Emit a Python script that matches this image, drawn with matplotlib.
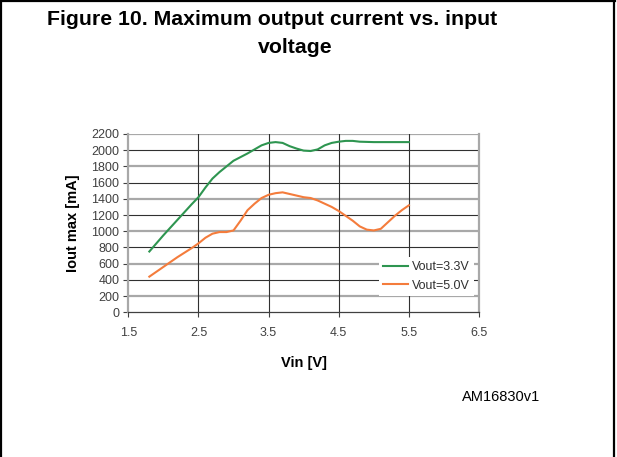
import matplotlib
matplotlib.use("Agg")
import matplotlib.pyplot as plt
from matplotlib.lines import Line2D

vin_33 = [1.8, 2.0, 2.2, 2.4, 2.5, 2.6, 2.7, 2.8, 2.9, 3.0, 3.2, 3.4, 3.5, 3.6, 3.7,
          3.8, 3.9, 4.0, 4.1, 4.2, 4.3, 4.4, 4.5, 4.6, 4.7, 4.8, 5.0, 5.5]
iout_33 = [750, 950, 1140, 1330, 1420, 1540, 1650, 1730, 1800, 1870, 1960, 2060, 2090,
           2100, 2090, 2050, 2020, 1995, 1990, 2010, 2060, 2090, 2105, 2115, 2115, 2105,
           2100, 2100]

vin_50 = [1.8, 2.0, 2.2, 2.4, 2.5, 2.6, 2.7, 2.8, 2.9, 3.0, 3.1, 3.2, 3.3, 3.4, 3.5, 3.6,
          3.7, 3.8, 3.9, 4.0, 4.1, 4.2, 4.3, 4.4, 4.5, 4.6, 4.7, 4.8, 4.9, 5.0, 5.1, 5.2,
          5.3, 5.4, 5.5]
iout_50 = [440, 560, 680, 790, 850, 920, 970, 990, 990, 1010, 1130, 1260, 1340, 1410,
           1450, 1470, 1480, 1460, 1440, 1420, 1410, 1380, 1340, 1300, 1250, 1190, 1130,
           1060, 1020, 1010, 1030, 1110, 1190, 1260, 1320]

series_labels = ["Vout=3.3V", "Vout=5.0V"]
x_ticks = [1.5, 2.5, 3.5, 4.5, 5.5, 6.5]
y_ticks = list(range(0, 2201, 200))

W, H = 617, 457
fig = plt.figure(figsize=(W / 100, H / 100), dpi=100)
plt.rcParams['font.family'] = ['Liberation Sans', 'DejaVu Sans']

# border
fig.add_artist(Line2D([1 / W, 1 / W], [0, 1], transform=fig.transFigure, color='black', lw=1.6))
fig.add_artist(Line2D([614 / W, 614 / W], [0, 1], transform=fig.transFigure, color='black', lw=1.6))
fig.add_artist(Line2D([0, 615 / W], [1 - 1 / H, 1 - 1 / H], transform=fig.transFigure, color='black', lw=1.6))

# title
fig.text(272 / W, 1 - 25 / H, "Figure 10. Maximum output current vs. input", ha='center',
         va='baseline', fontsize=15.3, fontweight='bold')
fig.text(295 / W, 1 - 53 / H, "voltage", ha='center', va='baseline', fontsize=15.3,
         fontweight='bold')
fig.text(501 / W, 1 - 401 / H, "AM16830v1", ha='center', va='baseline', fontsize=10.5)

x0, x1 = 128.3, 479
y0, y1 = 312.3, 134
ax = fig.add_axes([x0 / W, 1 - y0 / H, (x1 - x0) / W, (y0 - y1) / H])
ax.set_xlim(1.5, 6.5)
ax.set_ylim(0, 2200)

for v in y_ticks:
    if v == 0:
        continue
    if v % 400 == 0:
        ax.axhline(v, color='#303030', lw=0.8, zorder=1)
    else:
        ax.axhline(v, color='#a8a8a8', lw=1.6, zorder=1)
for v in x_ticks[1:-1]:
    ax.axvline(v, color='#303030', lw=0.8, zorder=1)

ax.spines['top'].set_visible(False)
ax.spines['left'].set_color('#a8a8a8')
ax.spines['left'].set_linewidth(1.6)
ax.spines['right'].set_color('#a8a8a8')
ax.spines['right'].set_linewidth(1.6)
ax.spines['bottom'].set_color('#404040')
ax.spines['bottom'].set_linewidth(0.9)

ax.plot(vin_33, iout_33, color='#2e9550', lw=1.5, label=series_labels[0], zorder=3)
ax.plot(vin_50, iout_50, color='#f47c3c', lw=1.5, label=series_labels[1], zorder=3)

ax.set_xticks(x_ticks)
ax.set_xticklabels([f"{v:.1f}" for v in x_ticks])
ax.set_yticks(y_ticks)
ax.tick_params(axis='both', labelsize=9, colors='#404040', length=3.5, width=0.8)
ax.tick_params(axis='x', pad=7)
ax.tick_params(axis='y', pad=3)

ax.set_xlabel("Vin [V]", fontsize=10.5, fontweight='bold', labelpad=12)
ax.set_ylabel("Iout max [mA]", fontsize=10.5, fontweight='bold', labelpad=8)

leg = ax.legend(loc='upper left', bbox_to_anchor=(0.715, 0.31), borderaxespad=0,
                frameon=True, fancybox=False, facecolor='white', edgecolor='none',
                framealpha=1, fontsize=9, handlelength=2.0, handletextpad=0.25,
                labelspacing=0.5, borderpad=0.35)
leg.set_zorder(2)
for t in leg.get_texts():
    t.set_color('#303030')

fig.savefig("out.png", dpi=100)
